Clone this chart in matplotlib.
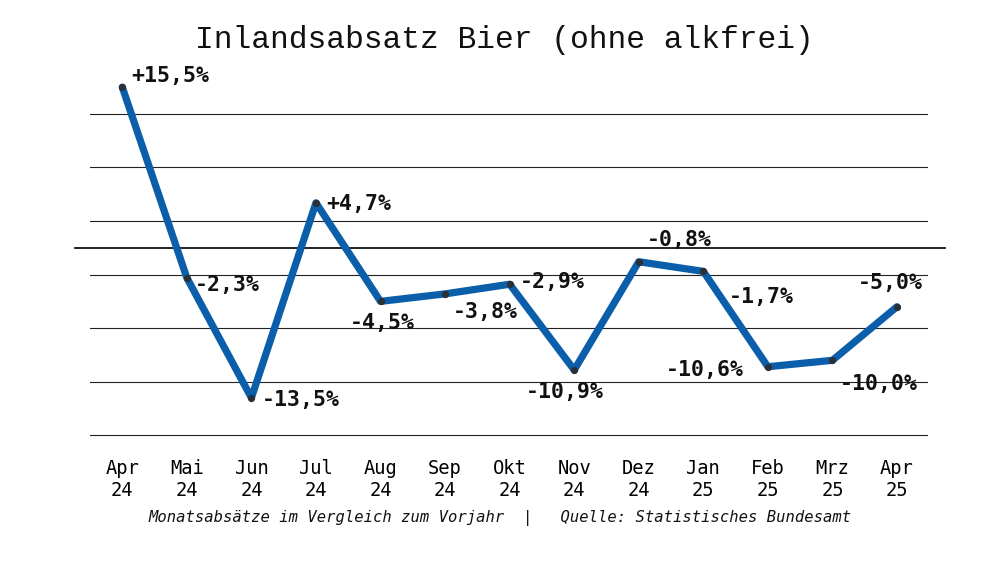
import matplotlib
matplotlib.use("Agg")
import matplotlib.pyplot as plt

months = ["Apr\n24", "Mai\n24", "Jun\n24", "Jul\n24", "Aug\n24", "Sep\n24", "Okt\n24",
          "Nov\n24", "Dez\n24", "Jan\n25", "Feb\n25", "Mrz\n25", "Apr\n25"]
values = [15.5, -2.3, -13.5, 4.7, -4.5, -3.8, -2.9, -10.9, -0.8, -1.7, -10.6, -10.0, -5.0]
labels = ["+15,5%", "-2,3%", "-13,5%", "+4,7%", "-4,5%", "-3,8%", "-2,9%",
          "-10,9%", "-0,8%", "-1,7%", "-10,6%", "-10,0%", "-5,0%"]
grid_values = [-17, -12, -7, -2, 3, 8, 13]
zero_value = 0.45

# label offsets in pixels (dx, dy) and horizontal alignment
offsets = [(9, 11, "left"), (8, -7, "left"), (10, -2, "left"), (10, -1, "left"),
           (2, -22, "center"), (8, -18, "left"), (10, 2, "left"), (-9, -22, "center"),
           (8, 22, "left"), (26, -26, "left"), (-24, -3, "right"), (7, -24, "left"),
           (-7, 24, "center")]

mono = "DejaVu Sans Mono"
fig = plt.figure(figsize=(10, 5.63), dpi=100)
ax = fig.add_axes([0.09, 0.2078, 0.838, 0.666])
x = list(range(len(values)))
ax.set_xlim(-0.5, 12.48)
ax.set_ylim(-18, 17)

for g in grid_values:
    ax.axhline(g, color="#222222", lw=0.8, zorder=1)
ax.plot([-0.73, 12.74], [zero_value, zero_value], color="#111111", lw=1.3,
        clip_on=False, zorder=1)

ax.plot(x, values, color="#0b5faa", lw=5.2, solid_capstyle="round",
        solid_joinstyle="round", zorder=3)
ax.plot(x, values, "o", color="#2b2f36", ms=4.2, zorder=4)

for xi, v, lab, (dx, dy, ha) in zip(x, values, labels, offsets):
    ax.annotate(lab, (xi, v), xytext=(dx, dy), textcoords="offset pixels",
                ha=ha, va="center", fontsize=15.5, fontweight="bold",
                family=mono, color="#111111", zorder=5)

for s in ax.spines.values():
    s.set_visible(False)
ax.set_yticks([])
ax.set_xticks(x)
ax.set_xticklabels(months, family=mono, fontsize=13.5, linespacing=1.2)
ax.tick_params(axis="x", length=0, pad=9)

fig.text(0.504, 0.929, "Inlandsabsatz Bier (ohne alkfrei)", ha="center", va="center",
         family="Liberation Mono", fontsize=22.5, color="#111111")
fig.text(0.5, 0.08, "Monatsabsätze im Vergleich zum Vorjahr  |   Quelle: Statistisches Bundesamt",
         ha="center", va="center", family=mono, style="italic", fontsize=11.2, color="#111111")

fig.savefig("out.png", dpi=100, facecolor="white")
